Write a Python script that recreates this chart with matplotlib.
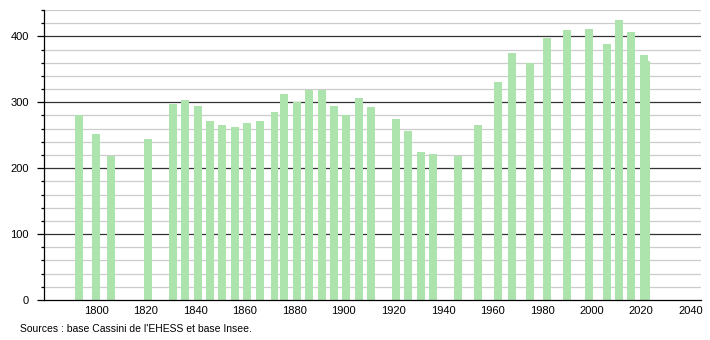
import matplotlib
matplotlib.use("Agg")
import matplotlib.pyplot as plt
import numpy as np

plt.rcParams['font.family'] = ['Liberation Sans', 'DejaVu Sans']

# recensements
years = [1793, 1800, 1806, 1821, 1831, 1836, 1841, 1846, 1851, 1856,
         1861, 1866, 1872, 1876, 1881, 1886, 1891, 1896, 1901, 1906,
         1911, 1921, 1926, 1931, 1936, 1946, 1954, 1962, 1968, 1975,
         1982, 1990, 1999, 2006, 2011, 2016, 2021, 2022]
population = [280, 252, 218, 244, 297, 304, 295, 272, 265, 263,
              268, 272, 285, 313, 301, 319, 319, 295, 280, 306,
              293, 275, 257, 225, 222, 218, 265, 331, 374, 360,
              397, 410, 411, 388, 425, 406, 372, 362]

fig = plt.figure(figsize=(7.1, 3.4), dpi=100)
ax = fig.add_axes([0.062, 0.1176, 0.925, 0.853])

# grille : mineure grise tous les 20, majeure noire tous les 100
for v in np.arange(20, 460, 20):
    if v % 100 == 0:
        ax.axhline(v, color="#333333", lw=0.9, zorder=1)
    else:
        ax.axhline(v, color="#cccccc", lw=0.9, zorder=1)

ax.bar(years, population, width=3.2, color="#ade3ad", zorder=2)

ax.set_xlim(1779, 2044)
ax.set_ylim(0, 440)
ax.set_xticks(np.arange(1800, 2041, 20))
ax.set_yticks(np.arange(0, 401, 100))
ax.set_yticks(np.arange(0, 441, 20), minor=True)
ax.tick_params(axis="x", length=0, labelsize=8, pad=4)
ax.tick_params(axis="y", which="major", length=5, width=0.9, labelsize=8, pad=6)
ax.tick_params(axis="y", which="minor", length=2.5, width=0.9)

for s in ["top", "right"]:
    ax.spines[s].set_visible(False)
ax.spines["left"].set_linewidth(0.9)
ax.spines["bottom"].set_linewidth(0.9)

fig.text(0.028, 0.025, "Sources : base Cassini de l'EHESS et base Insee.", fontsize=7.5)

plt.savefig("out.png", dpi=100)
